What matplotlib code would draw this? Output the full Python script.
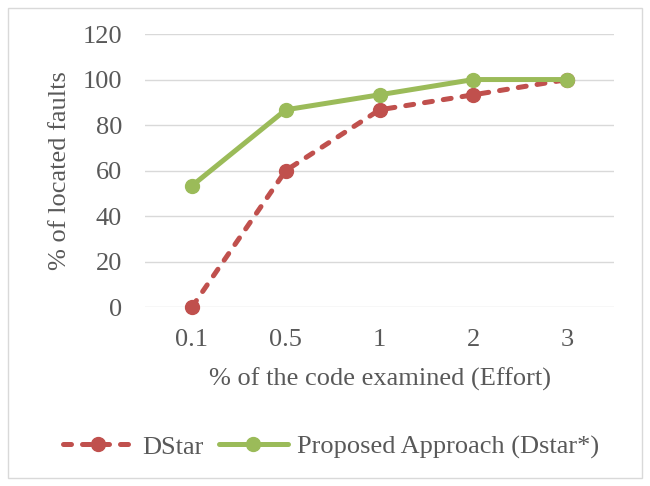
import matplotlib
matplotlib.use("Agg")
import matplotlib.pyplot as plt
from matplotlib.patches import Rectangle

effort = ["0.1", "0.5", "1", "2", "3"]
dstar = [0, 60, 86.7, 93.3, 100]
proposed = [53.3, 86.7, 93.3, 100, 100]
y_ticks = [0, 20, 40, 60, 80, 100, 120]

plt.rcParams["font.family"] = ["Liberation Serif", "DejaVu Serif"]
text_color = "#595959"
fs = 19

fig = plt.figure(figsize=(6.5, 4.86), dpi=100)
ax = fig.add_axes([0.223, 0.368, 0.722, 0.562])

x = range(len(effort))
ax.plot(x, dstar, color="#C0504D", lw=3.6, ls=(0, (1.6, 2.2)), marker="o",
        ms=10, label="DStar", dash_capstyle="round")
ax.plot(x, proposed, color="#9BBB59", lw=3.6, marker="o", ms=10,
        label="Proposed Approach (Dstar*)", solid_capstyle="round")

ax.set_xlim(-0.5, len(effort) - 0.5)
ax.set_ylim(0, 120)
ax.set_yticks(y_ticks)
ax.set_xticks(list(x))
ax.set_xticklabels(effort)
ax.grid(axis="y", color="#D9D9D9", lw=1)
ax.set_axisbelow(True)
for s in ax.spines.values():
    s.set_visible(False)
ax.tick_params(length=0, labelsize=fs, colors=text_color)
ax.tick_params(axis="x", pad=16)
ax.tick_params(axis="y", pad=16.5)
ax.set_xlabel("% of the code examined (Effort)", fontsize=fs, color=text_color, labelpad=12)
ax.set_ylabel("% of located faults", fontsize=fs, color=text_color, labelpad=8)
for line in ax.lines:
    line.set_clip_on(False)

leg = fig.legend(loc="center", bbox_to_anchor=(0.51, 0.080), ncol=2, frameon=False,
                 fontsize=fs, handlelength=2.6, columnspacing=0.6, handletextpad=0.37)
for t in leg.get_texts():
    t.set_color(text_color)

fig.patches.append(Rectangle((0.012, 0.016), 0.976, 0.968, transform=fig.transFigure,
                             fill=False, edgecolor="#D9D9D9", lw=1))

fig.savefig("out.png", dpi=100)
